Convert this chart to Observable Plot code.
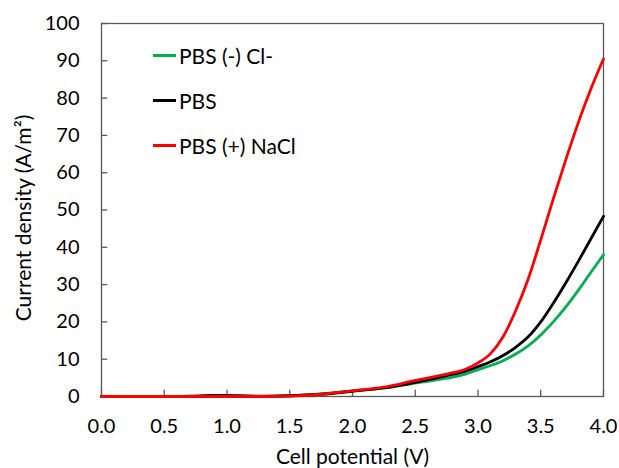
<!DOCTYPE html>
<html>
<head>
<meta charset="utf-8">
<script src="https://cdn.jsdelivr.net/npm/d3@7"></script>
<script src="https://cdn.jsdelivr.net/npm/@observablehq/plot@0.6"></script>
<style>
  body { margin: 0; background: #fff; }
  #wrap { position: relative; width: 619px; height: 468px; font-family: Lato, sans-serif; }
  #legend { position: absolute; left: 153px; top: 33px; }
  .row { display: flex; align-items: center; height: 45px; font-size: 21px; color: #000; }
  .sw { width: 23px; height: 3px; margin-right: 3px; }
</style>
</head>
<body>
<div id="wrap"><div id="legend"></div></div>
<script>
const potential = [0, 0.5, 0.7, 0.9, 1.0, 1.1, 1.3, 1.5, 1.75, 2.0, 2.25, 2.5, 2.75, 2.9, 3.0, 3.1, 3.2, 3.3, 3.4, 3.5, 3.6, 3.7, 3.8, 3.9, 4.0];
const greenVals = [0, 0, 0, 0, 0, 0, 0, 0.2, 0.7, 1.5, 2.3, 3.6, 4.9, 6.0, 7.2, 8.3, 9.6, 11.4, 13.6, 16.5, 20, 24, 28.5, 33.3, 38];
const blackVals = [0, 0, 0.1, 0.3, 0.3, 0.2, 0.1, 0.2, 0.6, 1.4, 2.3, 3.8, 5.6, 6.8, 8.0, 9.3, 11, 13.2, 16, 20, 25, 30.5, 36.3, 42.3, 48.3];
const redVals = [0, 0, 0, 0, 0, 0, 0, 0.1, 0.6, 1.5, 2.5, 4.3, 6.0, 7.3, 9.0, 11.5, 16, 23, 31.5, 42, 53, 63.5, 73.5, 82.5, 90.5];
const seriesNames = ["PBS (-) Cl-", "PBS", "PBS (+) NaCl"];
const seriesColors = ["#00B050", "#000000", "#FF0000"];
const xTicks = [0, 0.5, 1, 1.5, 2, 2.5, 3, 3.5, 4];
const yTicks = [0, 10, 20, 30, 40, 50, 60, 70, 80, 90, 100];
const xTitle = "Cell potential (V)";
const yTitle = "Current density (A/m²)";

const allVals = [greenVals, blackVals, redVals];
const data = seriesNames.flatMap((s, i) => potential.map((v, j) => ({v, j: allVals[i][j], s})));

const chart = Plot.plot({
  width: 619, height: 468,
  marginLeft: 101, marginRight: 16, marginTop: 23, marginBottom: 72,
  style: {fontFamily: "Lato, sans-serif", fontSize: "20px", color: "#000", background: "#fff"},
  x: {domain: [0, 4]},
  y: {domain: [0, 100]},
  color: {domain: seriesNames, range: seriesColors},
  marks: [
    Plot.frame({stroke: "#595959", strokeWidth: 1.3}),
    Plot.ruleX(xTicks, {y1: 0, y2: 1.7, stroke: "#595959", strokeWidth: 1.3}),
    Plot.ruleY(yTicks, {x1: 0, x2: 0.05, stroke: "#595959", strokeWidth: 1.3}),
    Plot.axisX({ticks: xTicks, tickSize: 0, tickPadding: 22, tickFormat: d => d.toFixed(1),
      label: null, fontSize: 20}),
    Plot.axisY({ticks: yTicks, tickSize: 0, tickPadding: 22, label: null, fontSize: 20}),
    Plot.text([xTitle], {frameAnchor: "bottom", textAnchor: "middle", lineAnchor: "bottom", dy: 67, fontSize: 21}),
    Plot.text([yTitle], {frameAnchor: "left", textAnchor: "middle", lineAnchor: "middle", rotate: -90, dx: -77, dy: 8, fontSize: 21}),
    Plot.line(data, {x: "v", y: "j", stroke: "s", z: "s", strokeWidth: 2.8, curve: "monotone-x"})
  ]
});
document.getElementById("wrap").prepend(chart);

const legend = document.getElementById("legend");
seriesNames.forEach((s, i) => {
  const row = document.createElement("div");
  row.className = "row";
  const sw = document.createElement("div");
  sw.className = "sw";
  sw.style.background = seriesColors[i];
  const t = document.createElement("span");
  t.textContent = s;
  row.append(sw, t);
  legend.append(row);
});
</script>
</body>
</html>
